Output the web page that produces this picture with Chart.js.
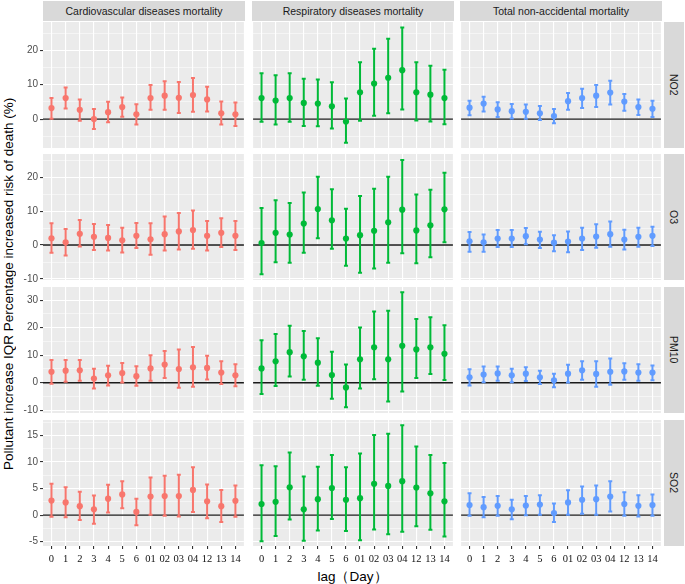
<!DOCTYPE html>
<html>
<head>
<meta charset="utf-8">
<script src="https://cdn.jsdelivr.net/npm/chart.js@4.4.1/dist/chart.umd.min.js"></script>
<style>
  body { margin: 0; background: #fff; width: 685px; height: 584px; position: relative; overflow: hidden;
         font-family: 'Liberation Sans', Arial, sans-serif; }
  canvas { position: absolute; }
  .strip { position: absolute; background: #d9d9d9; color: #1a1a1a; font-size: 10.5px;
           display: flex; align-items: center; justify-content: center; }
  .strip.side { writing-mode: vertical-rl; }
  .title { position: absolute; color: #000; white-space: nowrap; }
</style>
</head>
<body>
<div class="title" id="ytitle" style="left:1px;top:22px;height:524px;width:16px;font-size:13.5px;writing-mode:vertical-rl;transform:rotate(180deg);text-align:center;">Pollutant increase IQR Percentage increased risk of death (%)</div>
<div class="title" style="left:43px;top:568px;width:619px;text-align:center;font-size:13.5px;">lag（Day）</div>
<script>
// categorias e facetas
const lags = ['0', '1', '2', '3', '4', '5', '6', '01', '02', '03', '04', '12', '13', '14'];
const outcomes = ['Cardiovascular diseases mortality', 'Respiratory diseases mortality', 'Total non-accidental mortality'];
const pollutants = ['NO2', 'O3', 'PM10', 'SO2'];

// NO2
const no2CardioEst = [3.2, 6.1, 2.7, 0.0, 2.0, 3.5, 1.4, 6.1, 6.8, 6.2, 7.0, 5.7, 1.7, 1.4];
const no2CardioLo  = [0.1, 3.1, -0.5, -2.9, -0.9, 0.7, -1.6, 2.7, 2.7, 1.8, 2.1, 2.2, -1.6, -2.0];
const no2CardioHi  = [6.1, 9.2, 5.7, 2.9, 5.0, 6.3, 4.3, 9.9, 11.0, 10.8, 11.9, 9.4, 5.1, 4.8];
const no2RespEst = [6.1, 5.4, 6.1, 4.7, 4.5, 3.7, -0.7, 7.8, 10.3, 12.0, 14.2, 7.8, 7.1, 6.1];
const no2RespLo  = [-0.8, -1.6, -0.8, -2.0, -2.1, -2.7, -6.9, -0.5, 1.0, 1.7, 2.8, -0.4, -0.7, -1.5];
const no2RespHi  = [13.3, 12.7, 13.3, 11.7, 11.5, 10.7, 6.0, 16.5, 20.4, 23.3, 26.6, 16.5, 15.5, 14.3];
const no2TotalEst = [3.3, 4.5, 2.8, 2.3, 2.1, 1.7, 0.9, 5.2, 6.1, 6.8, 7.7, 5.1, 3.5, 3.0];
const no2TotalLo  = [1.1, 2.2, 0.6, 0.2, 0.1, -0.3, -1.2, 2.7, 3.2, 3.5, 4.2, 2.4, 1.2, 0.6];
const no2TotalHi  = [5.3, 6.5, 4.9, 4.4, 4.2, 3.8, 2.9, 7.6, 8.8, 9.9, 11.1, 7.3, 5.7, 5.3];

// O3
const o3CardioEst = [2.0, 0.8, 3.3, 2.4, 2.1, 1.4, 2.7, 1.7, 3.2, 4.0, 4.4, 2.7, 3.6, 2.7];
const o3CardioLo  = [-2.3, -3.1, -0.4, -1.5, -1.6, -2.2, -0.9, -2.9, -1.6, -1.3, -1.1, -1.6, -0.6, -1.5];
const o3CardioHi  = [6.4, 4.7, 7.4, 6.2, 5.9, 5.1, 6.5, 6.4, 8.4, 9.4, 10.2, 7.1, 7.9, 7.1];
const o3RespEst = [0.6, 3.6, 3.1, 6.3, 10.6, 7.3, 1.9, 2.9, 4.2, 6.7, 10.4, 4.3, 5.8, 10.5];
const o3RespLo  = [-8.6, -5.1, -5.2, -2.3, 2.0, -1.1, -6.1, -8.2, -6.9, -5.2, -2.4, -5.4, -3.6, 0.8];
const o3RespHi  = [10.9, 13.2, 12.4, 15.5, 20.1, 16.4, 10.7, 14.4, 16.6, 20.1, 25.0, 14.9, 16.3, 21.3];
const o3TotalEst = [1.1, 0.8, 1.9, 1.9, 2.6, 1.6, 0.7, 1.0, 1.9, 2.5, 3.2, 1.6, 2.4, 2.7];
const o3TotalLo  = [-2.0, -2.0, -0.6, -0.6, 0.2, -0.9, -1.8, -2.1, -1.5, -0.8, -0.5, -1.3, -0.5, -0.3];
const o3TotalHi  = [3.8, 3.1, 4.4, 4.4, 5.0, 3.9, 2.9, 4.0, 5.1, 6.1, 6.9, 4.5, 5.1, 5.4];

// PM10
const pm10CardioEst = [4.0, 4.4, 4.5, 1.5, 2.7, 3.5, 2.4, 5.2, 6.6, 5.0, 5.6, 5.4, 3.7, 2.7];
const pm10CardioLo  = [-0.4, 0.4, 0.7, -2.1, -1.0, 0.1, -1.1, 0.7, 1.7, -1.8, -1.5, 1.2, -0.5, -1.3];
const pm10CardioHi  = [8.3, 8.3, 8.3, 5.1, 6.2, 7.2, 6.0, 10.0, 11.5, 12.1, 13.0, 9.8, 7.8, 6.7];
const pm10RespEst = [5.2, 7.8, 11.1, 9.6, 7.3, 2.8, -1.7, 8.5, 12.9, 8.5, 13.4, 12.1, 12.9, 10.5];
const pm10RespLo  = [-4.1, -1.2, 2.3, 1.1, -1.1, -5.8, -8.9, -2.1, 1.3, -6.8, -3.2, 1.7, 3.2, 1.0];
const pm10RespHi  = [15.4, 17.7, 20.7, 18.8, 16.2, 11.3, 6.6, 20.1, 25.9, 26.2, 32.9, 23.2, 23.8, 20.9];
const pm10TotalEst = [2.0, 3.0, 3.4, 2.7, 3.3, 2.0, 0.9, 3.3, 4.5, 3.2, 4.0, 4.1, 3.7, 3.7];
const pm10TotalLo  = [-1.0, 0.2, 0.7, 0.2, 0.6, -0.5, -1.6, 0.1, 1.1, -1.5, -0.7, 1.1, 0.7, 0.9];
const pm10TotalHi  = [4.9, 5.9, 5.9, 5.1, 5.6, 4.4, 3.3, 6.5, 7.8, 7.8, 8.8, 7.1, 6.7, 6.3];

// SO2
const so2CardioEst = [2.75, 2.4, 1.7, 1.1, 3.1, 3.9, 0.6, 3.5, 3.6, 3.6, 4.75, 2.6, 1.7, 2.7];
const so2CardioLo  = [-0.3, -0.4, -0.9, -1.6, 0.5, 1.3, -1.9, 0.1, -0.1, -0.25, 0.6, -0.6, -1.3, -0.3];
const so2CardioHi  = [5.9, 5.25, 4.4, 3.7, 5.7, 6.4, 3.1, 7.1, 7.4, 7.6, 9.0, 5.75, 4.75, 5.6];
const so2RespEst = [2.1, 2.5, 5.25, 1.1, 3.0, 5.1, 2.9, 3.2, 5.9, 5.5, 6.4, 5.2, 4.1, 2.6];
const so2RespLo  = [-4.9, -3.9, -0.8, -4.8, -2.9, -0.7, -3.0, -4.7, -2.7, -3.6, -3.1, -2.1, -2.75, -4.0];
const so2RespHi  = [9.4, 9.2, 11.8, 7.25, 9.1, 11.3, 9.0, 11.6, 15.1, 15.3, 16.9, 12.9, 11.3, 9.8];
const so2TotalEst = [1.9, 1.5, 1.75, 1.1, 1.8, 2.0, 0.4, 2.4, 2.9, 3.0, 3.5, 2.1, 1.75, 1.9];
const so2TotalLo  = [-0.1, -0.4, -0.1, -0.75, 0.0, 0.1, -1.3, 0.1, 0.25, 0.1, 0.7, -0.1, -0.25, -0.1];
const so2TotalHi  = [4.1, 3.4, 3.6, 2.9, 3.6, 3.75, 2.2, 4.7, 5.4, 5.6, 6.4, 4.3, 3.75, 3.9];

// eixos y por linha (escalas livres)
const rowYRange = [[-8.4, 28.2], [-10.3, 26.8], [-11.0, 34.8], [-5.8, 17.9]];
const rowMajorTicks = [[0, 10, 20], [-10, 0, 10, 20], [-10, 0, 10, 20, 30], [-5, 0, 5, 10, 15]];
const rowMinorTicks = [[-5, 5, 15, 25], [-5, 5, 15, 25], [-5, 5, 15, 25], [-2.5, 2.5, 7.5, 12.5, 17.5]];

const panelData = [
    [[no2CardioEst, no2CardioLo, no2CardioHi], [no2RespEst, no2RespLo, no2RespHi], [no2TotalEst, no2TotalLo, no2TotalHi]],
    [[o3CardioEst, o3CardioLo, o3CardioHi], [o3RespEst, o3RespLo, o3RespHi], [o3TotalEst, o3TotalLo, o3TotalHi]],
    [[pm10CardioEst, pm10CardioLo, pm10CardioHi], [pm10RespEst, pm10RespLo, pm10RespHi], [pm10TotalEst, pm10TotalLo, pm10TotalHi]],
    [[so2CardioEst, so2CardioLo, so2CardioHi], [so2RespEst, so2RespLo, so2RespHi], [so2TotalEst, so2TotalLo, so2TotalHi]]
];

const outcomeColors = ['#F8766D', '#00BA38', '#619CFF'];

// layout das facetas
const colLeft = [43, 252, 460];
const colW = 202;
const rowTop = [22, 154, 287, 420];
const rowH = 126;

Chart.defaults.font.family = "'Liberation Sans', Arial, sans-serif";

// fundo do painel, linha do zero e barras de erro
const panelPlugin = {
    id: 'panelPlugin',
    beforeDraw(chart) {
        const a = chart.chartArea, ctx = chart.ctx;
        ctx.save();
        ctx.fillStyle = '#ebebeb';
        ctx.fillRect(a.left, a.top, a.right - a.left, a.bottom - a.top);
        ctx.restore();
    },
    beforeDatasetsDraw(chart) {
        const a = chart.chartArea, ctx = chart.ctx;
        const xs = chart.scales.x, ys = chart.scales.y;
        ctx.save();
        const y0 = ys.getPixelForValue(0);
        ctx.strokeStyle = '#1a1a1a';
        ctx.lineWidth = 1.3;
        ctx.beginPath();
        ctx.moveTo(a.left, y0);
        ctx.lineTo(a.right, y0);
        ctx.stroke();

        chart.data.datasets.forEach(ds => {
            ctx.strokeStyle = ds.barColor;
            ctx.lineWidth = 2;
            ds.lo.forEach((lo, i) => {
                const px = xs.getPixelForValue(i);
                const top = ys.getPixelForValue(ds.hi[i]);
                const bot = ys.getPixelForValue(lo);
                ctx.beginPath();
                ctx.moveTo(px, top);
                ctx.lineTo(px, bot);
                ctx.moveTo(px - 2, top);
                ctx.lineTo(px + 2, top);
                ctx.moveTo(px - 2, bot);
                ctx.lineTo(px + 2, bot);
                ctx.stroke();
            });
        });
        ctx.restore();
    }
};

// faixas de título
outcomes.forEach((name, c) => {
    const d = document.createElement('div');
    d.className = 'strip';
    d.style.cssText = `left:${colLeft[c]}px;top:1px;width:${colW}px;height:20px;`;
    d.textContent = name;
    document.body.appendChild(d);
});
pollutants.forEach((name, r) => {
    const d = document.createElement('div');
    d.className = 'strip side';
    d.style.cssText = `left:664px;top:${rowTop[r]}px;width:20px;height:${rowH}px;`;
    d.textContent = name;
    document.body.appendChild(d);
});

pollutants.forEach((pol, r) => {
    outcomes.forEach((out, c) => {
        const [est, lo, hi] = panelData[r][c];
        const isLeft = c === 0, isBottom = r === pollutants.length - 1;
        const leftAxis = isLeft ? 43 : 0;
        const bottomAxis = isBottom ? 26 : 0;
        const padT = 8, padB = 8, padL = isLeft ? 0 : 2, padR = 2;
        const w = colW + leftAxis + padL + padR;
        const h = rowH + bottomAxis + padT + padB;

        const canvas = document.createElement('canvas');
        canvas.width = w;
        canvas.height = h;
        canvas.style.cssText = `left:${colLeft[c] - leftAxis - padL}px;top:${rowTop[r] - padT}px;width:${w}px;height:${h}px;`;
        document.body.appendChild(canvas);

        const majors = rowMajorTicks[r];
        const allTicks = majors.concat(rowMinorTicks[r]).sort((a, b) => a - b);
        const isMajor = v => majors.some(m => Math.abs(m - v) < 1e-9);

        new Chart(canvas, {
            type: 'scatter',
            data: {
                datasets: [{
                    data: est.map((v, i) => ({ x: i, y: v })),
                    lo: lo,
                    hi: hi,
                    barColor: outcomeColors[c],
                    backgroundColor: outcomeColors[c],
                    borderWidth: 0,
                    pointRadius: 3.1,
                    pointHoverRadius: 3.1
                }]
            },
            options: {
                responsive: false,
                animation: false,
                devicePixelRatio: 1,
                layout: { padding: { top: padT, bottom: padB, left: padL, right: padR } },
                plugins: { legend: { display: false }, tooltip: { enabled: false } },
                scales: {
                    x: {
                        type: 'linear',
                        min: -0.6,
                        max: lags.length - 1 + 0.6,
                        afterBuildTicks: s => { s.ticks = lags.map((_, i) => ({ value: i })); },
                        afterFit: s => { s.height = bottomAxis; s.paddingLeft = 0; s.paddingRight = 0; },
                        border: { display: false },
                        grid: { color: '#ffffff', lineWidth: 1.1, drawTicks: isBottom, tickLength: 3, tickColor: '#333333' },
                        ticks: {
                            display: isBottom,
                            autoSkip: false,
                            maxRotation: 0,
                            padding: 4,
                            color: '#111111',
                            font: { family: "'Liberation Serif', 'Times New Roman', serif", size: 10.5 },
                            callback: v => lags[v]
                        }
                    },
                    y: {
                        min: rowYRange[r][0],
                        max: rowYRange[r][1],
                        afterBuildTicks: s => { s.ticks = allTicks.map(v => ({ value: v })); },
                        afterFit: s => { s.width = leftAxis; s.paddingTop = 0; s.paddingBottom = 0; },
                        border: { display: false },
                        grid: {
                            color: '#ffffff',
                            lineWidth: ctx => isMajor(ctx.tick.value) ? 1.1 : 0.5,
                            drawTicks: isLeft,
                            tickLength: 3,
                            tickColor: ctx => isMajor(ctx.tick.value) ? '#333333' : 'rgba(0,0,0,0)'
                        },
                        ticks: {
                            display: isLeft,
                            autoSkip: false,
                            padding: 2,
                            color: '#4d4d4d',
                            font: { size: 10 },
                            callback: v => isMajor(v) ? String(v) : ''
                        }
                    }
                }
            },
            plugins: [panelPlugin]
        });
    });
});
</script>
</body>
</html>
